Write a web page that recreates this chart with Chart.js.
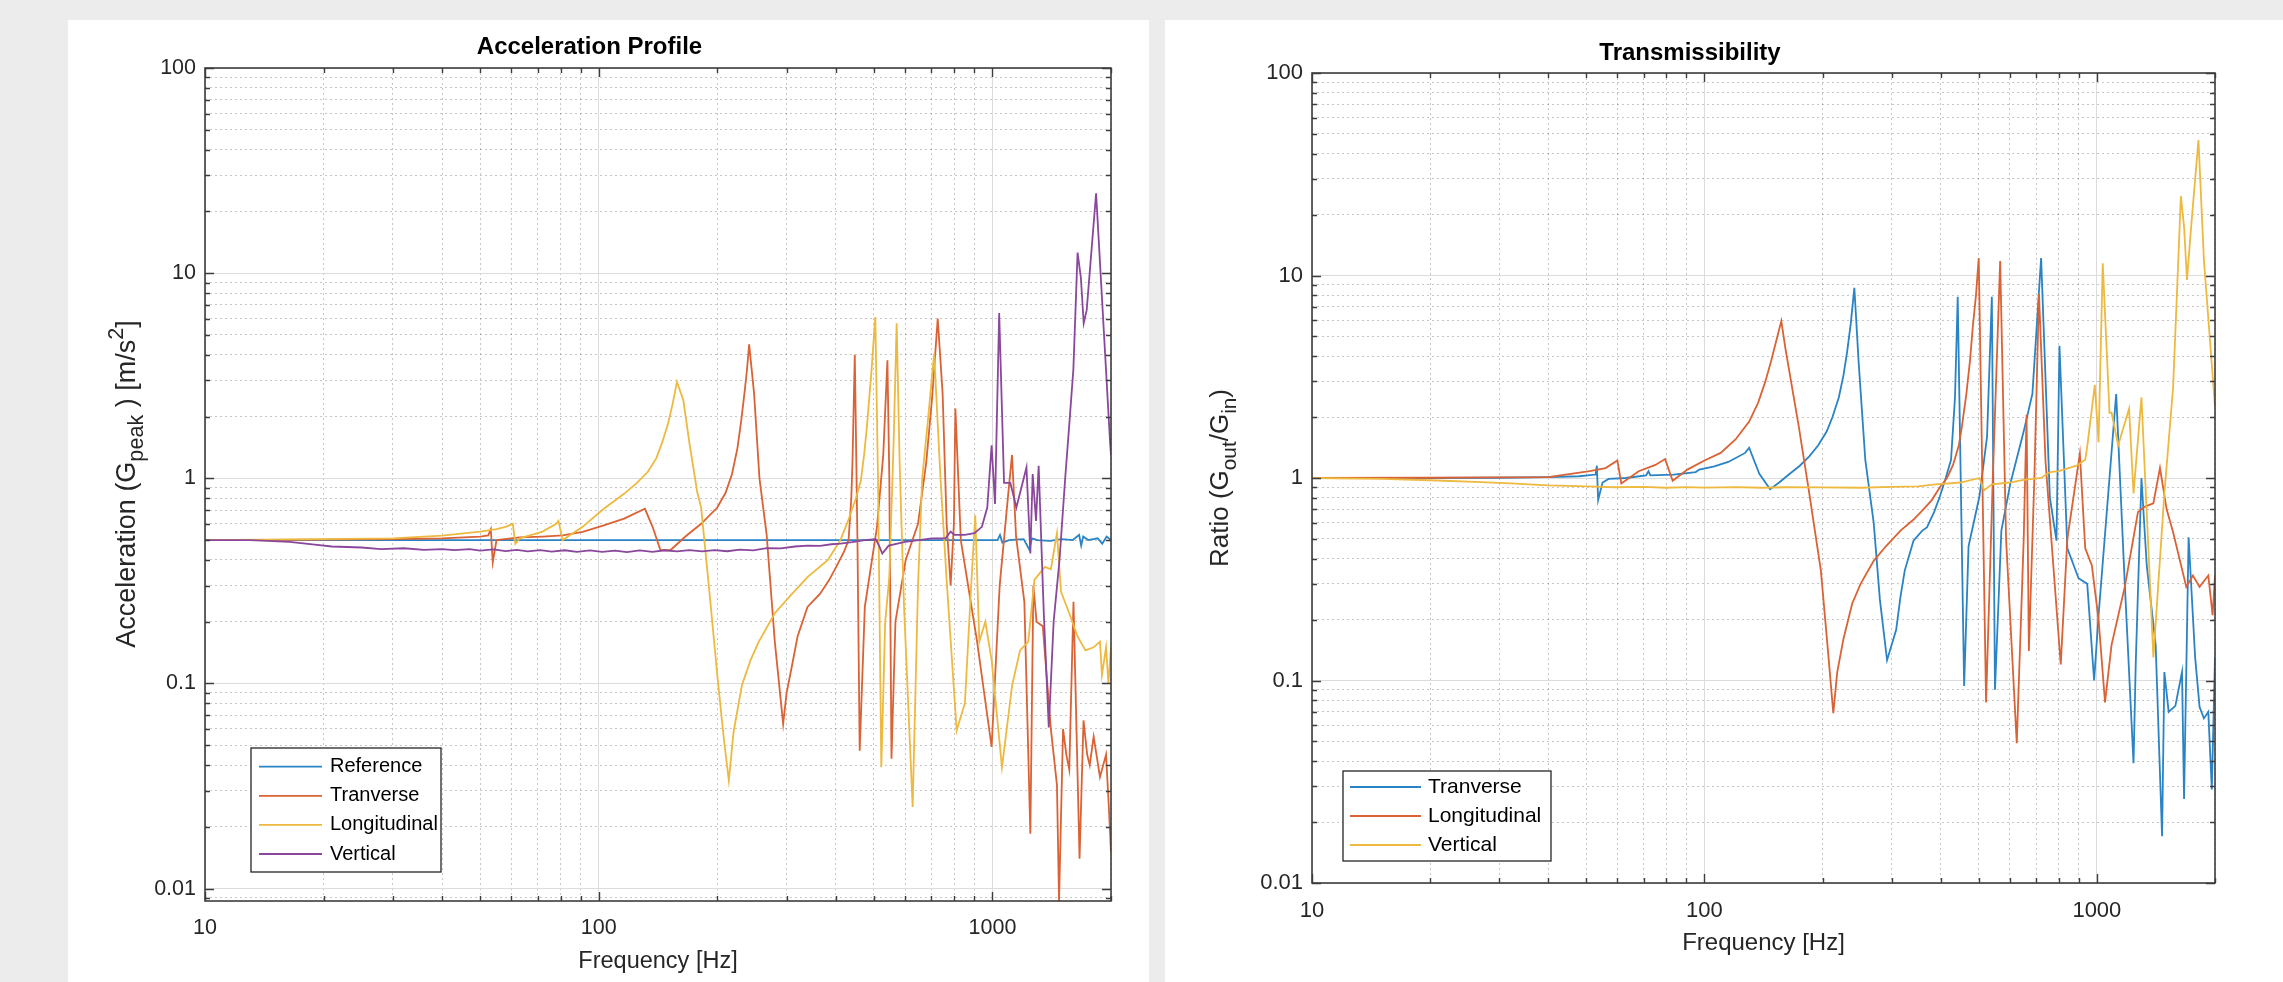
<!DOCTYPE html>
<html>
<head>
<meta charset="utf-8">
<title>Acceleration Profile / Transmissibility</title>
<script src="https://cdn.jsdelivr.net/npm/chart.js@4.4.1/dist/chart.umd.min.js"></script>
<style>
  html, body { margin: 0; padding: 0; }
  body { width: 2283px; height: 982px; background: #ececec; position: relative; overflow: hidden; }
  .panel { position: absolute; top: 20px; height: 962px; background: #fff; }
  #leftPanel { left: 68px; width: 1081px; }
  #rightPanel { left: 1165px; width: 1118px; }
  canvas { display: block; }
</style>
</head>
<body>
<div class="panel" id="leftPanel"><canvas id="accChart" width="1081" height="962"></canvas></div>
<div class="panel" id="rightPanel"><canvas id="trChart" width="1118" height="962"></canvas></div>
<script>
// Axis ranges and tick labels
const xMin = 10, xMax = 2000;
const xTickLabels = [10, 100, 1000];
const yTickLabels = [0.01, 0.1, 1, 10, 100];
const accYMin = 0.0087, accYMax = 100;
const trYMin = 0.01, trYMax = 100;

// ---- Acceleration Profile ----
const accRefFreq = [10, 100, 500, 980, 1030, 1045, 1060, 1100, 1200, 1240, 1260, 1300, 1400, 1500, 1600, 1660, 1680, 1700, 1750, 1850, 1900, 1950, 2000];
const accRefVal  = [0.5, 0.5, 0.5, 0.5, 0.5, 0.53, 0.485, 0.5, 0.505, 0.45, 0.51, 0.5, 0.495, 0.505, 0.5, 0.53, 0.47, 0.52, 0.5, 0.51, 0.48, 0.52, 0.5];

const accTraFreq = [10, 20, 30, 40, 50, 52.4, 53.2, 53.8, 55, 63, 72, 81, 91, 103, 116, 131, 137, 143.5, 152, 166, 182, 200, 210, 218, 225, 230, 235, 238, 241, 248, 256, 267, 280, 294, 300, 308, 320, 339, 365, 385, 401, 420, 431, 438, 441, 444, 447, 454, 460, 474, 509, 528, 541, 547, 554, 567, 602, 647, 679, 703, 726, 747, 765, 783, 798, 805, 831, 914, 995, 1043, 1094, 1121, 1148, 1205, 1248, 1270, 1294, 1342, 1407, 1458, 1476, 1511, 1540, 1567, 1606, 1664, 1703, 1740, 1766, 1807, 1875, 1943, 1975, 2000];
const accTraVal  = [0.5, 0.502, 0.505, 0.51, 0.52, 0.527, 0.565, 0.39, 0.5, 0.515, 0.52, 0.527, 0.548, 0.59, 0.636, 0.71, 0.58, 0.446, 0.446, 0.52, 0.6, 0.72, 0.85, 1.05, 1.4, 1.9, 2.7, 3.4, 4.5, 2.6, 1.0, 0.53, 0.16, 0.0635, 0.09, 0.116, 0.17, 0.236, 0.274, 0.32, 0.37, 0.44, 0.5, 0.8, 1.2, 2.2, 4.0, 0.5, 0.047, 0.236, 0.58, 1.3, 3.76, 1.0, 0.043, 0.2, 0.4, 0.6, 1.2, 2.5, 6.0, 2.6, 0.6, 0.3, 0.6, 2.19, 0.5, 0.16, 0.049, 0.3, 0.8, 1.3, 0.52, 0.25, 0.0185, 0.3, 0.2, 0.19, 0.06, 0.032, 0.0087, 0.06, 0.045, 0.038, 0.25, 0.014, 0.066, 0.045, 0.04, 0.055, 0.035, 0.045, 0.025, 0.015];

const accLonFreq = [10, 20, 30, 40, 50, 55, 58, 60.5, 61.4, 63, 72, 78, 79, 81, 91, 103, 116, 125, 133, 140, 145, 150, 154, 158, 164, 170, 178, 182, 191, 200, 208, 214, 220, 231, 243, 255, 280, 308, 339, 382, 411, 431, 450, 463, 472, 480, 492, 504, 512, 522, 534, 547, 561, 571, 581, 596, 627, 647, 663, 687, 711, 738, 764, 811, 851, 883, 904, 926, 959, 995, 1057, 1122, 1175, 1233, 1278, 1358, 1407, 1458, 1493, 1567, 1643, 1723, 1807, 1875, 1897, 1943, 1970, 2000];
const accLonVal  = [0.5, 0.505, 0.51, 0.525, 0.55, 0.565, 0.58, 0.6, 0.48, 0.51, 0.55, 0.6, 0.62, 0.5, 0.58, 0.71, 0.84, 0.95, 1.07, 1.25, 1.5, 1.85, 2.3, 2.95, 2.4, 1.48, 0.85, 0.72, 0.28, 0.11, 0.053, 0.0336, 0.058, 0.098, 0.13, 0.16, 0.22, 0.27, 0.33, 0.4, 0.5, 0.63, 0.8, 0.97, 1.3, 1.8, 3.2, 6.1, 1.0, 0.039, 0.2, 0.33, 1.5, 5.7, 1.2, 0.24, 0.025, 0.3, 1.0, 2.0, 4.05, 1.0, 0.33, 0.059, 0.08, 0.3, 0.66, 0.16, 0.2, 0.13, 0.039, 0.098, 0.145, 0.16, 0.32, 0.37, 0.36, 0.54, 0.28, 0.22, 0.17, 0.145, 0.15, 0.16, 0.11, 0.15, 0.1, 0.15];

const accVerFreq = [10, 13, 16.4, 19, 21, 25, 28, 32, 36, 40, 43, 47, 50, 54, 58, 62, 66, 71, 76, 82, 88, 95, 102, 110, 118, 127, 137, 147, 158, 170, 183, 197, 212, 228, 247, 267, 290, 315, 339, 365, 390, 411, 440, 474, 505, 515, 525, 545, 600, 650, 700, 760, 783, 800, 850, 900, 940, 970, 995, 1015, 1040, 1070, 1110, 1150, 1220, 1248, 1265, 1290, 1310, 1350, 1390, 1430, 1480, 1530, 1570, 1605, 1645, 1677, 1705, 1735, 1833, 1990, 2000];
const accVerVal  = [0.5, 0.5, 0.49, 0.475, 0.465, 0.46, 0.452, 0.456, 0.448, 0.452, 0.447, 0.452, 0.444, 0.45, 0.442, 0.448, 0.44, 0.447, 0.439, 0.446, 0.438, 0.445, 0.438, 0.444, 0.437, 0.445, 0.438, 0.446, 0.44, 0.447, 0.44, 0.447, 0.441, 0.449, 0.445, 0.457, 0.455, 0.465, 0.47, 0.468, 0.477, 0.48, 0.488, 0.5, 0.505, 0.47, 0.43, 0.47, 0.49, 0.5, 0.51, 0.51, 0.55, 0.53, 0.53, 0.54, 0.58, 0.72, 1.45, 0.75, 6.4, 0.95, 0.95, 0.72, 1.13, 0.43, 1.05, 0.62, 1.15, 0.22, 0.061, 0.2, 0.4, 1.0, 1.92, 3.4, 12.6, 9.5, 5.7, 6.6, 24.5, 1.48, 1.3];

// ---- Transmissibility ----
const trTraFreq = [10, 20, 30, 40, 48, 52.8, 53.2, 53.6, 55, 57, 63, 71, 72, 72.8, 83.5, 95, 97, 106, 115, 127, 130, 138, 147, 155, 165, 175, 185, 195, 205, 212, 220, 226, 231, 236, 241, 247, 257, 270, 280, 292, 300, 308, 316, 324, 341, 359, 369, 385, 398, 412, 425, 435, 442, 459, 471, 502, 525, 540, 550, 571, 602, 651, 685, 721, 759, 789, 803, 841, 898, 945, 984, 1010, 1120, 1178, 1240, 1256, 1299, 1340, 1412, 1466, 1486, 1524, 1585, 1648, 1668, 1713, 1780, 1827, 1874, 1923, 1963, 2000];
const trTraVal  = [1.0, 1.0, 1.003, 1.01, 1.02, 1.04, 1.15, 0.78, 0.95, 0.99, 1.0, 1.03, 1.08, 1.03, 1.04, 1.07, 1.1, 1.14, 1.2, 1.33, 1.41, 1.05, 0.88, 0.95, 1.05, 1.15, 1.28, 1.45, 1.7, 2.0, 2.5, 3.2, 4.2, 5.8, 8.7, 3.8, 1.23, 0.6, 0.25, 0.126, 0.15, 0.178, 0.26, 0.35, 0.49, 0.55, 0.57, 0.68, 0.81, 1.0, 1.23, 2.5, 7.85, 0.094, 0.46, 0.81, 1.6, 7.85, 0.09, 0.55, 0.94, 1.7, 2.6, 12.2, 0.8, 0.49, 4.5, 0.45, 0.32, 0.3, 0.1, 0.21, 2.6, 0.3, 0.039, 0.12, 1.0, 0.37, 0.15, 0.017, 0.11, 0.07, 0.075, 0.11, 0.026, 0.51, 0.13, 0.074, 0.065, 0.07, 0.029, 0.13];

const trLonFreq = [10, 20, 30, 40, 51, 56, 60, 61.4, 68, 75, 79.4, 83, 90.5, 100, 110, 120, 130, 137, 143, 148, 153, 157, 161, 174, 184, 198, 206, 213, 218, 226, 238, 250, 270, 290, 316, 340, 359, 380, 398, 415, 430, 445, 453, 465, 475, 483, 492, 500, 522, 543, 567, 587, 625, 651, 662, 671, 693, 712, 740, 809, 841, 905, 934, 971, 1010, 1049, 1090, 1178, 1273, 1322, 1393, 1448, 1506, 1564, 1690, 1757, 1827, 1923, 1972, 2000];
const trLonVal  = [1.0, 1.003, 1.006, 1.01, 1.08, 1.12, 1.22, 0.94, 1.08, 1.16, 1.24, 0.97, 1.1, 1.22, 1.33, 1.55, 1.9, 2.35, 3.0, 3.8, 4.9, 5.96, 4.3, 1.79, 0.9, 0.35, 0.147, 0.069, 0.11, 0.16, 0.24, 0.3, 0.39, 0.46, 0.55, 0.62, 0.69, 0.78, 0.9, 1.0, 1.16, 1.45, 1.8, 2.6, 3.8, 5.6, 8.0, 12.2, 0.078, 1.0, 11.8, 0.5, 0.049, 0.5, 2.05, 0.14, 1.0, 8.1, 1.2, 0.12, 0.5, 1.32, 0.45, 0.37, 0.2, 0.078, 0.15, 0.29, 0.68, 0.72, 0.75, 1.12, 0.7, 0.54, 0.29, 0.33, 0.29, 0.33, 0.21, 0.33];

const trVerFreq = [10, 15, 20, 27, 32, 40, 50, 59, 70, 80, 90, 100, 120, 140, 160, 200, 250, 300, 350, 388, 450, 502, 516, 540, 600, 651, 721, 759, 800, 887, 934, 945, 988, 1010, 1035, 1077, 1090, 1133, 1208, 1240, 1299, 1393, 1486, 1564, 1596, 1637, 1668, 1697, 1733, 1815, 1874, 2000];
const trVerVal  = [1.0, 0.99, 0.975, 0.955, 0.94, 0.92, 0.91, 0.9, 0.905, 0.895, 0.902, 0.896, 0.902, 0.895, 0.9, 0.898, 0.895, 0.905, 0.91, 0.93, 0.95, 1.0, 0.87, 0.93, 0.95, 0.98, 1.0, 1.07, 1.08, 1.15, 1.23, 1.43, 2.88, 1.5, 11.5, 2.1, 2.1, 1.45, 2.2, 0.84, 2.5, 0.13, 0.84, 2.8, 7.3, 24.7, 17.4, 9.5, 16.1, 46.7, 11.9, 2.25];

const BLUE = '#2a83c4', ORANGE = '#da6235', YELLOW = '#edb93f', PURPLE = '#8a479c';
const FONT = '"Liberation Sans", Arial, Helvetica, sans-serif';
Chart.defaults.font.family = FONT;
Chart.defaults.color = '#262626';

function isDecade(v) {
  const l = Math.log10(v);
  return Math.abs(l - Math.round(l)) < 1e-9;
}

// gridline values 1..9 x 10^n inside [min, max]
function logGrid(min, max) {
  const out = [];
  for (let e = Math.floor(Math.log10(min)); e <= Math.ceil(Math.log10(max)); e++) {
    for (let m = 1; m < 10; m++) {
      const v = +(m * Math.pow(10, e)).toPrecision(6);
      if (v >= min && v <= max) out.push(v);
    }
  }
  return out;
}

function series(label, freq, vals, color, order) {
  return {
    label: label,
    data: freq.map((f, i) => ({ x: f, y: vals[i] })),
    borderColor: color,
    backgroundColor: color,
    borderWidth: 1.8,
    pointRadius: 0,
    tension: 0,
    fill: false,
    order: order
  };
}

// box around the axes plus inward tick marks on all four sides
const axesBox = {
  id: 'axesBox',
  afterDatasetsDraw(chart) {
    const { ctx, chartArea: a, scales: { x, y } } = chart;
    ctx.save();
    ctx.strokeStyle = '#3d3d3d';
    ctx.lineWidth = 1.4;
    ctx.beginPath();
    x.ticks.forEach(t => {
      const px = Math.round(x.getPixelForValue(t.value)) + 0.5;
      const len = isDecade(t.value) ? 9 : 5;
      ctx.moveTo(px, a.bottom); ctx.lineTo(px, a.bottom - len);
      ctx.moveTo(px, a.top); ctx.lineTo(px, a.top + len);
    });
    y.ticks.forEach(t => {
      const py = Math.round(y.getPixelForValue(t.value)) + 0.5;
      const len = isDecade(t.value) ? 9 : 5;
      ctx.moveTo(a.left, py); ctx.lineTo(a.left + len, py);
      ctx.moveTo(a.right, py); ctx.lineTo(a.right - len, py);
    });
    ctx.stroke();
    ctx.lineWidth = 1.6;
    ctx.strokeRect(a.left, a.top, a.right - a.left, a.bottom - a.top);
    ctx.restore();
  }
};

// legend box inside the plot, bottom left
const boxLegend = {
  id: 'boxLegend',
  afterDraw(chart, args, o) {
    const { ctx } = chart;
    ctx.save();
    ctx.fillStyle = '#fff';
    ctx.fillRect(o.x, o.y, o.w, o.h);
    ctx.strokeStyle = '#262626';
    ctx.lineWidth = 1.3;
    ctx.strokeRect(o.x, o.y, o.w, o.h);
    ctx.font = o.size + 'px ' + FONT;
    ctx.textBaseline = 'middle';
    chart.data.datasets.forEach((ds, i) => {
      const yy = o.y + o.first + i * o.step;
      ctx.strokeStyle = ds.borderColor;
      ctx.lineWidth = ds.borderWidth;
      ctx.beginPath();
      ctx.moveTo(o.x + o.line0, yy);
      ctx.lineTo(o.x + o.line1, yy);
      ctx.stroke();
      ctx.fillStyle = '#000';
      ctx.fillText(ds.label, o.x + o.text, yy);
    });
    ctx.restore();
  }
};

// rotated y label with sub/superscripts
const yLabel = {
  id: 'yLabel',
  afterDraw(chart, args, o) {
    const { ctx } = chart;
    const size = o.size, small = size * 0.8;
    ctx.save();
    ctx.translate(o.x, o.y);
    ctx.rotate(-Math.PI / 2);
    ctx.fillStyle = '#262626';
    ctx.textBaseline = 'alphabetic';
    let total = 0;
    const widths = o.parts.map(p => {
      ctx.font = (p[1] === 0 ? size : small) + 'px ' + FONT;
      const w = ctx.measureText(p[0]).width;
      total += w;
      return w;
    });
    let cx = -total / 2;
    const base = size * 0.36;
    o.parts.forEach((p, i) => {
      ctx.font = (p[1] === 0 ? size : small) + 'px ' + FONT;
      const dy = p[1] === -1 ? size * 0.3 : (p[1] === 1 ? -size * 0.42 : 0);
      ctx.fillText(p[0], cx, base + dy);
      cx += widths[i];
    });
    ctx.restore();
  }
};

function makeOptions(o) {
  const grid = {
    drawTicks: false,
    lineWidth: 1,
    color: c => (c.tick && !isDecade(c.tick.value)) ? 'rgba(0,0,0,0.22)' : '#dcdcdc'
  };
  const border = {
    display: false,
    dash: c => (c.tick && !isDecade(c.tick.value)) ? [2, 3] : []
  };
  return {
    responsive: false,
    animation: false,
    devicePixelRatio: 1,
    layout: { autoPadding: false, padding: { left: 0, right: o.padRight, top: 0, bottom: 0 } },
    plugins: {
      legend: { display: false },
      tooltip: { enabled: false },
      title: {
        display: true, text: o.title, color: '#000',
        font: { size: 24, weight: 'bold' },
        padding: { top: o.titleTop, bottom: o.titleBottom }
      },
      boxLegend: o.legend,
      yLabel: o.yLabel
    },
    scales: {
      x: {
        type: 'logarithmic', min: xMin, max: xMax,
        afterBuildTicks: s => { s.ticks = logGrid(xMin, xMax).map(v => ({ value: v })); },
        afterFit: s => { s.height = o.xHeight; },
        ticks: {
          autoSkip: false, maxRotation: 0, minRotation: 0, padding: o.xTickPad,
          color: '#262626', font: { size: o.tickSize },
          callback: v => xTickLabels.includes(v) ? String(v) : ''
        },
        grid: grid,
        border: border,
        title: {
          display: true, text: 'Frequency [Hz]', color: '#262626',
          font: { size: o.labelSize }, padding: { top: 0, bottom: o.xTitlePad }
        }
      },
      y: {
        type: 'logarithmic', min: o.yMin, max: o.yMax,
        afterBuildTicks: s => { s.ticks = logGrid(o.yMin, o.yMax).map(v => ({ value: v })); },
        afterFit: s => { s.width = o.yWidth; },
        ticks: {
          autoSkip: false, padding: 9, color: '#262626', font: { size: o.tickSize },
          callback: v => yTickLabels.includes(v) ? String(v) : ''
        },
        grid: grid,
        border: border
      }
    }
  };
}

new Chart(document.getElementById('accChart'), {
  type: 'line',
  data: {
    datasets: [
      series('Reference', accRefFreq, accRefVal, BLUE, 4),
      series('Tranverse', accTraFreq, accTraVal, ORANGE, 3),
      series('Longitudinal', accLonFreq, accLonVal, YELLOW, 2),
      series('Vertical', accVerFreq, accVerVal, PURPLE, 1)
    ]
  },
  options: makeOptions({
    title: 'Acceleration Profile', titleTop: 12.6, titleBottom: 6.6,
    padRight: 38, yWidth: 137, xHeight: 81, xTickPad: 14, xTitlePad: 6,
    yMin: accYMin, yMax: accYMax, tickSize: 21.5, labelSize: 23.5,
    legend: { x: 183, y: 728, w: 190, h: 124, first: 18.7, step: 29.1, line0: 8, line1: 71, text: 79, size: 20 },
    yLabel: { x: 57, y: 464, size: 27, parts: [['Acceleration (G', 0], ['peak', -1], [' ) [m/s', 0], ['2', 1], [']', 0]] }
  }),
  plugins: [axesBox, boxLegend, yLabel]
});

new Chart(document.getElementById('trChart'), {
  type: 'line',
  data: {
    datasets: [
      series('Tranverse', trTraFreq, trTraVal, BLUE, 3),
      series('Longitudinal', trLonFreq, trLonVal, ORANGE, 2),
      series('Vertical', trVerFreq, trVerVal, YELLOW, 1)
    ]
  },
  options: makeOptions({
    title: 'Transmissibility', titleTop: 18.6, titleBottom: 5.6,
    padRight: 68, yWidth: 147, xHeight: 99, xTickPad: 14.5, xTitlePad: 24.6,
    yMin: trYMin, yMax: trYMax, tickSize: 22, labelSize: 24,
    legend: { x: 178, y: 751, w: 208, h: 90, first: 16, step: 29, line0: 7, line1: 78, text: 85, size: 21 },
    yLabel: { x: 54, y: 458, size: 26, parts: [['Ratio (G', 0], ['out', -1], ['/G', 0], ['in', -1], [')', 0]] }
  }),
  plugins: [axesBox, boxLegend, yLabel]
});
</script>
</body>
</html>
